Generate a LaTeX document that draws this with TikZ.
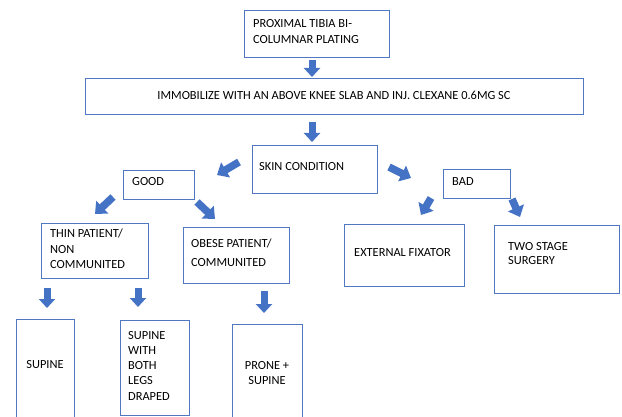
\documentclass[tikz,border=0pt]{standalone}
\usepackage{fontspec}
\setmainfont{Carlito}
\usetikzlibrary{arrows.meta}
\definecolor{boxblue}{HTML}{4F77C2}
\definecolor{arrowblue}{HTML}{4472C4}
\tikzset{
  box/.style={draw=boxblue, line width=0.8pt, inner sep=0pt, anchor=north west},
  txt/.style={inner sep=0pt, align=left, anchor=base west, text=black,
    font=\fontsize{12.4}{15.3}\selectfont},
  ctxt/.style={inner sep=0pt, align=center, anchor=base, text=black,
    font=\fontsize{12.4}{15.3}\selectfont},
  varrow/.style={draw=arrowblue, line width=7pt,
    -{Triangle[width=16pt,length=9pt]}},
  darrow/.style={draw=arrowblue, line width=7.5pt,
    -{Triangle[width=17pt,length=10pt]}},
}
\newcommand{\bx}[5]{\node[box, minimum width=#4pt, minimum height=#5pt] (#1) at (#2,#3) {};}
\begin{document}
\begin{tikzpicture}[x=1pt,y=-1pt]
\useasboundingbox (0,0) rectangle (622,417);
% boxes: name, left, top, width, height
\bx{bP}{244}{10}{145}{47}
\bx{bW}{85}{78}{498}{36}
\bx{bS}{252}{145}{125}{48}
\bx{bG}{123}{170}{71}{29}
\bx{bB}{443}{169}{67}{29}
\bx{bT}{41}{223}{107}{55}
\bx{bO}{183}{227}{106}{56}
\bx{bE}{344}{224}{120}{62}
\bx{bTW}{494}{225}{125}{68}
\bx{bSU}{16}{319}{58}{101}
\bx{bSW}{120}{320}{69}{95}
\bx{bPR}{232}{324}{70}{96}
% texts (anchor = baseline of the last line)
\node[txt] (tP) at (253,43.3) {PROXIMAL TIBIA BI-\\COLUMNAR PLATING};
\node[ctxt] (tW) at (334,100) {IMMOBILIZE WITH AN ABOVE KNEE SLAB AND INJ. CLEXANE 0.6MG SC};
\node[txt] (tS) at (259,171) {SKIN CONDITION};
\node[txt] (tG) at (132,186) {GOOD};
\node[txt] (tB) at (452,186) {BAD};
\node[txt] (tT) at (50,268.6) {THIN PATIENT/\\NON\\COMMUNITED};
\node[txt, font=\fontsize{12.4}{19}\selectfont] (tO) at (191,266) {OBESE PATIENT/\\COMMUNITED};
\node[txt] (tE) at (354,257) {EXTERNAL FIXATOR};
\node[txt, font=\fontsize{12.4}{14}\selectfont] (tTW) at (508,265) {TWO STAGE\\SURGERY};
\node[ctxt] (tSU) at (45,368) {SUPINE};
\node[txt] (tSW) at (128,400.2) {SUPINE\\WITH\\BOTH\\LEGS\\DRAPED};
\node[ctxt] (tPR) at (267,384.3) {PRONE +\\SUPINE};
% arrow end points
\coordinate (a1s) at (312,60);  \coordinate (a1e) at (312,77);
\coordinate (a2s) at (312,122); \coordinate (a2e) at (312,142);
\coordinate (sgs) at (239,162); \coordinate (sge) at (217,175);
\coordinate (sbs) at (389,167); \coordinate (sbe) at (411,178);
\coordinate (gts) at (113,197); \coordinate (gte) at (95,214);
\coordinate (gos) at (197,202); \coordinate (goe) at (215,219);
\coordinate (bes) at (431,198); \coordinate (bee) at (421,215);
\coordinate (bts) at (512,199); \coordinate (bte) at (520,217);
\coordinate (t1s) at (47,288);  \coordinate (t1e) at (47,308);
\coordinate (t2s) at (138,288); \coordinate (t2e) at (138,307);
\coordinate (os) at (264,291);  \coordinate (oe) at (264,313);
% arrows
\draw[varrow] (a1s) -- (a1e);
\draw[varrow] (a2s) -- (a2e);
\draw[darrow] (sgs) -- (sge);
\draw[darrow] (sbs) -- (sbe);
\draw[darrow] (gts) -- (gte);
\draw[darrow] (gos) -- (goe);
\draw[darrow] (bes) -- (bee);
\draw[darrow] (bts) -- (bte);
\draw[varrow] (t1s) -- (t1e);
\draw[varrow] (t2s) -- (t2e);
\draw[varrow] (os) -- (oe);
\end{tikzpicture}
\end{document}
